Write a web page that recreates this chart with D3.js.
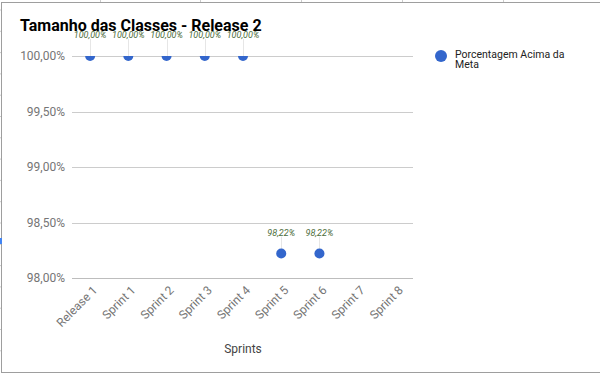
<!DOCTYPE html>
<html>
<head>
<meta charset="utf-8">
<script src="https://cdn.jsdelivr.net/npm/d3@7"></script>
<style>
  body { margin: 0; background: #fff; }
  svg { display: block; font-family: Roboto, "Noto Sans", sans-serif; }
</style>
</head>
<body>
<div id="chart"></div>
<script>
// chart data
var categories = ['Release 1', 'Sprint 1', 'Sprint 2', 'Sprint 3', 'Sprint 4', 'Sprint 5', 'Sprint 6', 'Sprint 7', 'Sprint 8'];
var percentAboveGoal = [100.00, 100.00, 100.00, 100.00, 100.00, 98.22, 98.22, null, null];
var yTicks = [98.0, 98.5, 99.0, 99.5, 100.0];
var seriesName = 'Porcentagem Acima da Meta';

var width = 600, height = 375;
var margin = { top: 56, right: 185, bottom: 97, left: 71 };

var svg = d3.select('#chart').append('svg')
  .attr('width', width)
  .attr('height', height);

// spreadsheet frame around the chart
svg.append('rect')
  .attr('x', 1.5).attr('y', 2.5)
  .attr('width', width).attr('height', 370)
  .attr('fill', 'none').attr('stroke', '#9e9e9e').attr('stroke-width', 1);
[100, 200, 301, 402, 503].forEach(function (cx) {
  svg.append('line').attr('x1', cx + 0.5).attr('x2', cx + 0.5).attr('y1', 0).attr('y2', 2)
    .attr('stroke', '#ccc');
});
d3.range(10, 372, 21.3).forEach(function (cy) {
  svg.append('line').attr('x1', 0).attr('x2', 1).attr('y1', cy).attr('y2', cy)
    .attr('stroke', '#ccc');
});
svg.append('rect').attr('x', 0).attr('y', 238).attr('width', 2).attr('height', 6).attr('fill', '#4285f4');

var x = d3.scaleBand()
  .domain(categories)
  .range([margin.left, width - margin.right])
  .padding(0);

var y = d3.scaleLinear()
  .domain([98, 100])
  .range([height - margin.bottom, margin.top]);

var fmt = function (v) { return d3.format('.2f')(v).replace('.', ',') + '%'; };

// gridlines
svg.append('g')
  .selectAll('line')
  .data(yTicks)
  .join('line')
  .attr('x1', margin.left + 1)
  .attr('x2', width - margin.right - 2)
  .attr('y1', function (d) { return Math.round(y(d)) + 0.5; })
  .attr('y2', function (d) { return Math.round(y(d)) + 0.5; })
  .attr('stroke', function (d) { return d === 98 ? '#bdbdbd' : '#cccccc'; })
  .attr('stroke-width', 1);

// y axis labels
svg.append('g')
  .selectAll('text')
  .data(yTicks)
  .join('text')
  .attr('x', margin.left - 6)
  .attr('y', function (d) { return y(d); })
  .attr('dy', '0.35em')
  .attr('text-anchor', 'end')
  .attr('font-size', 12)
  .attr('fill', '#757575')
  .text(fmt);

// x axis labels (rotated)
svg.append('g')
  .selectAll('text')
  .data(categories)
  .join('text')
  .attr('transform', function (d) {
    var cx = x(d) + x.bandwidth() / 2;
    return 'translate(' + (cx + 5) + ',' + (height - margin.bottom + 10) + ') rotate(-45)';
  })
  .attr('text-anchor', 'end')
  .attr('dy', '0.35em')
  .attr('font-size', 12)
  .attr('fill', '#757575')
  .text(function (d) { return d; });

// x axis title
svg.append('text')
  .attr('x', (margin.left + width - margin.right) / 2)
  .attr('y', 353)
  .attr('text-anchor', 'middle')
  .attr('font-size', 12)
  .attr('fill', '#444')
  .text('Sprints');

var points = categories.map(function (c, i) { return { cat: c, value: percentAboveGoal[i] }; })
  .filter(function (d) { return d.value !== null; });

// leader lines for the data labels
svg.append('g')
  .selectAll('line')
  .data(points)
  .join('line')
  .attr('x1', function (d) { return Math.round(x(d.cat) + x.bandwidth() / 2) + 0.5; })
  .attr('x2', function (d) { return Math.round(x(d.cat) + x.bandwidth() / 2) + 0.5; })
  .attr('y1', function (d) { return y(d.value) - 17; })
  .attr('y2', function (d) { return y(d.value); })
  .attr('stroke', '#e6e6e6')
  .attr('stroke-width', 1);

// points, clipped to the plot area
svg.append('clipPath').attr('id', 'plotClip')
  .append('rect')
  .attr('x', margin.left).attr('y', margin.top)
  .attr('width', width - margin.left - margin.right)
  .attr('height', height - margin.top - margin.bottom);

svg.append('g')
  .attr('clip-path', 'url(#plotClip)')
  .selectAll('circle')
  .data(points)
  .join('circle')
  .attr('cx', function (d) { return x(d.cat) + x.bandwidth() / 2; })
  .attr('cy', function (d) { return y(d.value); })
  .attr('r', 5)
  .attr('fill', '#3366cc');

// data labels
svg.append('g')
  .selectAll('text')
  .data(points)
  .join('text')
  .attr('x', function (d) { return x(d.cat) + x.bandwidth() / 2; })
  .attr('y', function (d) { return y(d.value) - 18; })
  .attr('text-anchor', 'middle')
  .attr('font-size', 9)
  .attr('font-style', 'italic')
  .attr('fill', '#4e6e3c')
  .text(function (d) { return fmt(d.value); });

// title
svg.append('text')
  .attr('x', 20)
  .attr('y', 31)
  .attr('font-size', 16)
  .attr('font-weight', 'bold')
  .attr('fill', '#000')
  .text('Tamanho das Classes - Release 2');

// legend
var legend = svg.append('g').attr('transform', 'translate(441,56)');
legend.append('circle').attr('cx', 0).attr('cy', 0).attr('r', 6).attr('fill', '#3366cc');
var words = seriesName.split(' ');
legend.append('text')
  .attr('x', 14).attr('y', 1.5)
  .attr('font-size', 10.5)
  .attr('fill', '#222')
  .selectAll('tspan')
  .data([words.slice(0, 3).join(' '), words.slice(3).join(' ')])
  .join('tspan')
  .attr('x', 14)
  .attr('dy', function (d, i) { return i === 0 ? 0 : 10; })
  .text(function (d) { return d; });
</script>
</body>
</html>
